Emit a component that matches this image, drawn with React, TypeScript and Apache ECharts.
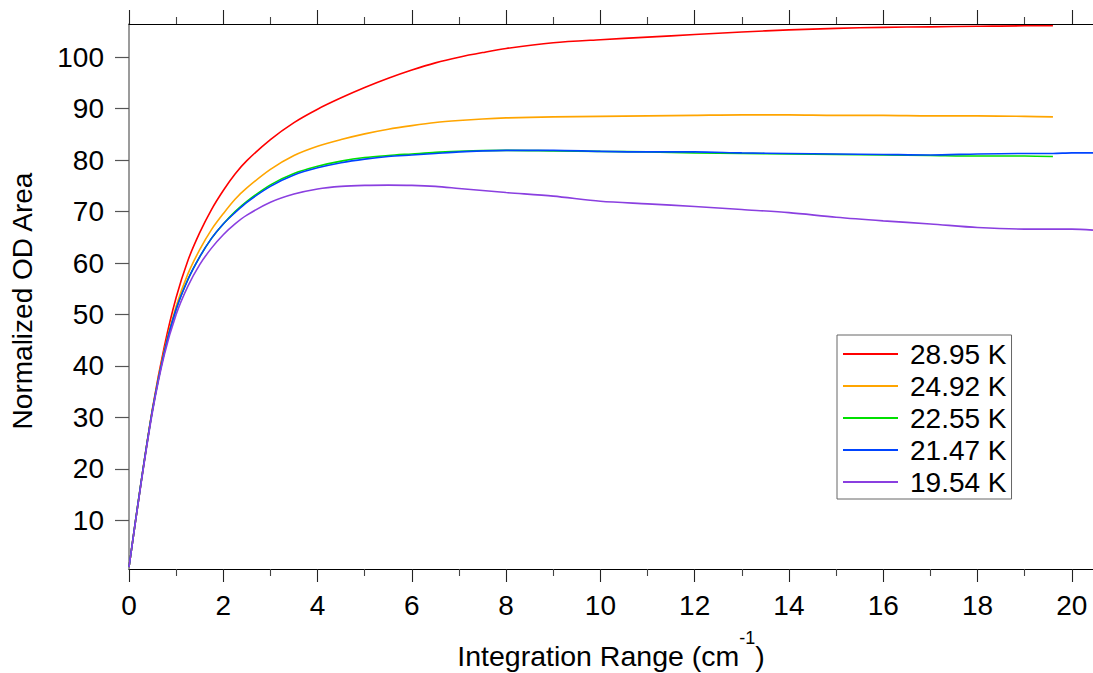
import React, { useEffect, useRef } from 'react';
import * as echarts from 'echarts';

const FONT = '"Liberation Sans", Arial, Helvetica, sans-serif';

// Integration range (cm^-1)
const xCommon = [0, 0.25, 0.5, 0.75, 1.0, 1.25, 1.5, 1.75, 2.0, 2.25, 2.5, 3.0, 3.5, 4.0, 4.5, 5.0, 5.5, 6.0, 6.5, 7.0, 7.5, 8.0, 9, 10, 11, 12, 13, 14, 15, 16, 17, 18, 19, 19.6];
const xExtended = [...xCommon, 20, 20.45];

const seriesNames = ['28.95 K', '24.92 K', '22.55 K', '21.47 K', '19.54 K'];
const seriesColors = ['#ff0000', '#ffa500', '#00e000', '#0044ff', '#8a3fe0'];

const red = [0.9, 17.0, 31.8, 43.8, 53.3, 60.5, 65.9, 70.4, 74.1, 77.3, 79.9, 84.0, 87.3, 89.9, 92.1, 94.1, 95.9, 97.5, 98.9, 100.0, 100.9, 101.7, 102.8, 103.4, 103.9, 104.4, 104.9, 105.3, 105.6, 105.8, 105.9, 106.0, 106.1, 106.1];
const orange = [0.9, 17.0, 31.6, 43.0, 51.6, 57.9, 62.6, 66.5, 69.6, 72.4, 74.6, 78.2, 80.9, 82.7, 84.0, 85.1, 86.0, 86.7, 87.3, 87.7, 88.0, 88.2, 88.4, 88.5, 88.6, 88.7, 88.8, 88.8, 88.7, 88.7, 88.6, 88.6, 88.5, 88.4];
const green = [0.9, 17.0, 31.5, 42.7, 51.0, 56.8, 61.2, 64.8, 67.6, 70.0, 72.0, 75.2, 77.4, 78.8, 79.8, 80.5, 80.9, 81.2, 81.5, 81.7, 81.85, 81.9, 81.8, 81.7, 81.6, 81.4, 81.3, 81.2, 81.1, 81.0, 80.9, 80.8, 80.8, 80.7];
const blue = [0.9, 17.0, 31.5, 42.7, 51.0, 56.8, 61.2, 64.8, 67.6, 69.8, 71.8, 74.9, 77.1, 78.5, 79.5, 80.2, 80.7, 81.0, 81.3, 81.6, 81.8, 81.9, 81.9, 81.7, 81.6, 81.6, 81.4, 81.3, 81.2, 81.1, 81.0, 81.2, 81.3, 81.3, 81.4, 81.4];
const purple = [0.9, 16.8, 31.2, 42.2, 50.0, 55.5, 59.7, 62.9, 65.5, 67.6, 69.3, 71.8, 73.4, 74.4, 74.9, 75.1, 75.15, 75.1, 74.9, 74.5, 74.1, 73.7, 73.0, 72.0, 71.5, 71.0, 70.4, 69.8, 68.9, 68.2, 67.6, 66.9, 66.6, 66.6, 66.6, 66.4];

const yTickValues = [10, 20, 30, 40, 50, 60, 70, 80, 90, 100];
const xMajorTicks = [0, 2, 4, 6, 8, 10, 12, 14, 16, 18, 20];
const xMinorTicks = [1, 3, 5, 7, 9, 11, 13, 15, 17, 19];

const X_MIN = 0;
const X_MAX = 20.45;
const Y_MIN = 0.55;
const Y_MAX = 106.45;

function zip(xs: number[], ys: number[]) {
  return ys.map((y, i) => [xs[i], y]);
}

export default function App() {
  const ref = useRef<HTMLDivElement>(null);

  useEffect(() => {
    if (!ref.current) return;
    const chart = echarts.init(ref.current, undefined, { renderer: 'svg' });

    const values = [red, orange, green, blue, purple];
    const xsFor = [xCommon, xCommon, xCommon, xExtended, xExtended];

    const baseX = {
      type: 'value',
      min: X_MIN,
      max: X_MAX,
      splitLine: { show: false },
    };

    const option: any = {
      animation: false,
      backgroundColor: '#ffffff',
      textStyle: { fontFamily: FONT },
      grid: { left: 129, right: 0, top: 24, bottom: 104, containLabel: false },
      xAxis: [
        {
          ...baseX,
          position: 'bottom',
          axisLine: { show: true, lineStyle: { color: '#000', width: 1.2 } },
          axisTick: { show: true, customValues: xMajorTicks, length: 13, lineStyle: { color: '#222', width: 1.1 } },
          axisLabel: { show: true, customValues: xMajorTicks, fontSize: 28, color: '#000', margin: 22, fontFamily: FONT },
        },
        {
          ...baseX,
          position: 'bottom',
          axisLine: { show: false },
          axisTick: { show: true, customValues: xMinorTicks, length: 7, lineStyle: { color: '#444', width: 1.1 } },
          axisLabel: { show: false },
        },
        {
          ...baseX,
          position: 'top',
          axisLine: { show: true, lineStyle: { color: '#000', width: 1.2 } },
          axisTick: { show: true, customValues: xMajorTicks, length: 14, lineStyle: { color: '#222', width: 1.1 } },
          axisLabel: { show: false },
        },
        {
          ...baseX,
          position: 'top',
          axisLine: { show: false },
          axisTick: { show: true, customValues: xMinorTicks, length: 7, lineStyle: { color: '#444', width: 1.1 } },
          axisLabel: { show: false },
        },
      ],
      yAxis: {
        type: 'value',
        min: Y_MIN,
        max: Y_MAX,
        offset: 2,
        splitLine: { show: false },
        axisLine: { show: true, lineStyle: { color: '#7a7a7a', width: 1.5 } },
        axisTick: { show: true, customValues: yTickValues, length: 14, lineStyle: { color: '#555', width: 1.2 } },
        axisLabel: { show: true, customValues: yTickValues, fontSize: 28, color: '#000', margin: 23, fontFamily: FONT },
      },
      legend: {
        show: true,
        orient: 'vertical',
        left: 837,
        top: 335,
        data: seriesNames,
        icon: 'rect',
        itemWidth: 55,
        itemHeight: 2,
        itemGap: 0,
        borderColor: '#666',
        borderWidth: 1,
        borderRadius: 0,
        padding: [3, 5, 1, 6],
        backgroundColor: '#fff',
        textStyle: { fontSize: 28, lineHeight: 32, color: '#000', fontFamily: FONT, padding: [0, 0, 0, 7] },
      },
      graphic: [
        {
          type: 'text',
          x: 22,
          y: 301,
          rotation: Math.PI / 2,
          style: {
            text: 'Normalized OD Area',
            fontSize: 28,
            fontFamily: FONT,
            fill: '#000',
            align: 'center',
            verticalAlign: 'middle',
          },
        },
        {
          type: 'text',
          x: 611,
          y: 656,
          style: {
            text: '{a|Integration Range (cm}{s|-1}{a|)}',
            fontFamily: FONT,
            fill: '#000',
            align: 'center',
            verticalAlign: 'middle',
            rich: {
              a: { fontSize: 28.5, fontFamily: FONT, fill: '#000' },
              s: { fontSize: 18, fontFamily: FONT, fill: '#000', padding: [0, 0, 36, 0] },
            },
          },
        },
      ],
      series: values.map((vals, i) => ({
        name: seriesNames[i],
        type: 'line',
        xAxisIndex: 0,
        data: zip(xsFor[i], vals),
        showSymbol: false,
        symbol: 'none',
        smooth: 0.3,
        color: seriesColors[i],
        itemStyle: { color: seriesColors[i] },
        lineStyle: { color: seriesColors[i], width: 1.6 },
        z: 2 + i,
      })),
    };

    chart.setOption(option);
    return () => {
      chart.dispose();
    };
  }, []);

  return (
    <div
      ref={ref}
      style={{ position: 'fixed', left: 0, top: 0, width: 1093, height: 673, background: '#fff' }}
    />
  );
}
